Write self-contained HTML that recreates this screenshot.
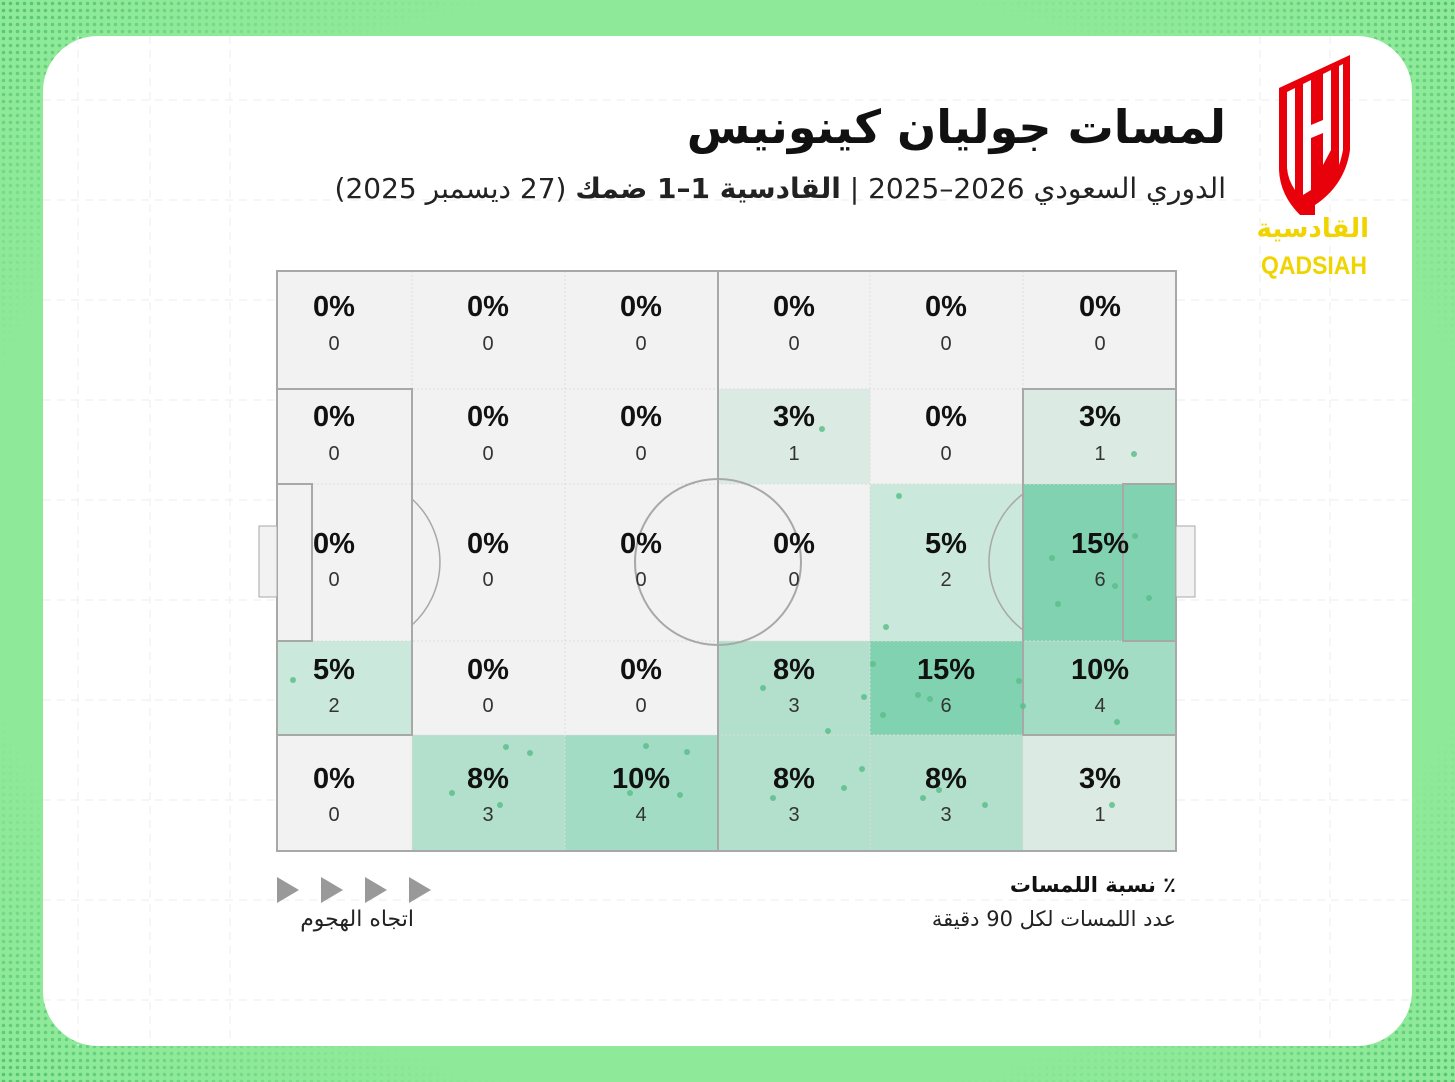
<!DOCTYPE html>
<html><head><meta charset="utf-8"><style>
html,body{margin:0;padding:0;}
body{width:1455px;height:1082px;overflow:hidden;background:#8eea98;font-family:"Liberation Sans","DejaVu Sans",sans-serif;position:relative;}
.t{position:absolute;direction:rtl;text-align:right;white-space:nowrap;font-family:"DejaVu Sans","Liberation Sans",sans-serif;}
</style></head><body>
<svg style="position:absolute;left:0;top:0" width="1455" height="1082" viewBox="0 0 1455 1082" xmlns="http://www.w3.org/2000/svg" font-family="Liberation Sans, DejaVu Sans, sans-serif">
<defs>
<pattern id="dots" width="7" height="7" patternUnits="userSpaceOnUse"><circle cx="3.5" cy="3.5" r="1.8" fill="#4fc070"/></pattern>
<radialGradient id="fade" cx="0.5" cy="0.5" r="0.72"><stop offset="0.72" stop-color="#8eea98" stop-opacity="1"/><stop offset="1" stop-color="#8eea98" stop-opacity="0"/></radialGradient>
</defs>
<rect width="1455" height="1082" fill="url(#dots)"/>
<rect width="1455" height="1082" fill="url(#fade)"/>
<rect x="43" y="36" width="1369" height="1010" rx="55" fill="#fff"/>
<g stroke="#ececec" stroke-dasharray="8 6" stroke-width="1">
<line x1="43" y1="100" x2="1412" y2="100"/><line x1="43" y1="200" x2="1412" y2="200"/><line x1="43" y1="300" x2="1412" y2="300"/><line x1="43" y1="400" x2="1412" y2="400"/><line x1="43" y1="500" x2="1412" y2="500"/><line x1="43" y1="600" x2="1412" y2="600"/><line x1="43" y1="700" x2="1412" y2="700"/><line x1="43" y1="800" x2="1412" y2="800"/><line x1="43" y1="900" x2="1412" y2="900"/><line x1="43" y1="1000" x2="1412" y2="1000"/>
<line x1="78" y1="36" x2="78" y2="1046"/><line x1="150" y1="36" x2="150" y2="1046"/><line x1="230" y1="36" x2="230" y2="1046"/><line x1="1260" y1="36" x2="1260" y2="1046"/><line x1="1330" y1="36" x2="1330" y2="1046"/>
</g>
<!-- logo -->
<path d="M1279 88 L1350 55 L1350 150 Q1345 185 1315 205 L1315 215 L1300 215 Q1280 195 1279 170 Z" fill="#e8000b"/>
<path d="M1287 92 L1295 88 L1295 190 Q1288 180 1287 168Z M1303 84 L1311 80 L1311 125 L1323 120 L1323 74 L1331 70 L1331 150 L1323 165 L1323 133 L1311 138 L1311 190 L1303 195 Z M1339 66 L1343 64 L1343 150 Q1341 160 1339 165Z" fill="#fff"/>
<text x="1314" y="274" text-anchor="middle" font-size="25" font-weight="bold" fill="#f0d400" textLength="106" lengthAdjust="spacingAndGlyphs">QADSIAH</text>
<g>
<rect x="277" y="271" width="899" height="580" fill="#f2f2f2"/>
<rect x="718" y="389" width="152" height="95" fill="#dceae4"/>
<rect x="1023" y="389" width="153" height="95" fill="#dceae4"/>
<rect x="870" y="484" width="153" height="157" fill="#cae8dc"/>
<rect x="1023" y="484" width="153" height="157" fill="#80d2b0"/>
<rect x="277" y="641" width="135" height="94" fill="#cae8dc"/>
<rect x="718" y="641" width="152" height="94" fill="#b3e0cd"/>
<rect x="870" y="641" width="153" height="94" fill="#80d2b0"/>
<rect x="1023" y="641" width="153" height="94" fill="#a3dcc4"/>
<rect x="412" y="735" width="153" height="116" fill="#b3e0cd"/>
<rect x="565" y="735" width="153" height="116" fill="#a3dcc4"/>
<rect x="718" y="735" width="152" height="116" fill="#b3e0cd"/>
<rect x="870" y="735" width="153" height="116" fill="#b3e0cd"/>
<rect x="1023" y="735" width="153" height="116" fill="#dceae4"/>
</g>
<g stroke="#ddd" stroke-dasharray="2 2" stroke-width="1">
<line x1="412" y1="271" x2="412" y2="851"/><line x1="565" y1="271" x2="565" y2="851"/><line x1="870" y1="271" x2="870" y2="851"/><line x1="1023" y1="271" x2="1023" y2="851"/>
<line x1="277" y1="389" x2="1176" y2="389"/><line x1="277" y1="484" x2="1176" y2="484"/><line x1="277" y1="641" x2="1176" y2="641"/><line x1="277" y1="735" x2="1176" y2="735"/>
</g>
<g fill="none" stroke="#a8a8a8" stroke-width="2">
<rect x="277" y="271" width="899" height="580"/>
<line x1="718" y1="271" x2="718" y2="851"/>
<circle cx="718" cy="562" r="83"/>
<rect x="277" y="389" width="135" height="346"/>
<rect x="277" y="484" width="35" height="157"/>
<rect x="259" y="526" width="18" height="71" fill="#f2f2f2" stroke-width="1"/>
<rect x="1023" y="389" width="153" height="346"/>
<rect x="1123" y="484" width="53" height="157"/>
<rect x="1176" y="526" width="19" height="71" fill="#f2f2f2" stroke-width="1"/>
<path d="M412 499 A85 85 0 0 1 412 625" stroke-width="1.5"/>
<path d="M1023 494 A85 85 0 0 0 1023 630" stroke-width="1.5"/>
</g>
<g fill="#5cbf8c" opacity="0.85">
<circle cx="822" cy="429" r="3"/><circle cx="1134" cy="454" r="3"/><circle cx="899" cy="496" r="3"/><circle cx="886" cy="627" r="3"/>
<circle cx="1052" cy="558" r="3"/><circle cx="1135" cy="536" r="3"/><circle cx="1115" cy="586" r="3"/><circle cx="1058" cy="604" r="3"/><circle cx="1149" cy="598" r="3"/>
<circle cx="293" cy="680" r="3"/><circle cx="763" cy="688" r="3"/><circle cx="828" cy="731" r="3"/><circle cx="864" cy="697" r="3"/>
<circle cx="873" cy="664" r="3"/><circle cx="918" cy="695" r="3"/><circle cx="930" cy="699" r="3"/><circle cx="883" cy="715" r="3"/><circle cx="1019" cy="681" r="3"/><circle cx="1023" cy="706" r="3"/>
<circle cx="1099" cy="672" r="3"/><circle cx="1117" cy="722" r="3"/>
<circle cx="506" cy="747" r="3"/><circle cx="530" cy="753" r="3"/><circle cx="452" cy="793" r="3"/><circle cx="500" cy="805" r="3"/>
<circle cx="646" cy="746" r="3"/><circle cx="687" cy="752" r="3"/><circle cx="630" cy="793" r="3"/><circle cx="680" cy="795" r="3"/>
<circle cx="862" cy="769" r="3"/><circle cx="844" cy="788" r="3"/><circle cx="773" cy="798" r="3"/>
<circle cx="923" cy="798" r="3"/><circle cx="939" cy="790" r="3"/><circle cx="985" cy="805" r="3"/><circle cx="1112" cy="805" r="3"/>
</g>
<g text-anchor="middle" fill="#111">
<g font-size="29" font-weight="bold">
<text x="334" y="316">0%</text><text x="488" y="316">0%</text><text x="641" y="316">0%</text><text x="794" y="316">0%</text><text x="946" y="316">0%</text><text x="1100" y="316">0%</text>
<text x="334" y="426">0%</text><text x="488" y="426">0%</text><text x="641" y="426">0%</text><text x="794" y="426">3%</text><text x="946" y="426">0%</text><text x="1100" y="426">3%</text>
<text x="334" y="553">0%</text><text x="488" y="553">0%</text><text x="641" y="553">0%</text><text x="794" y="553">0%</text><text x="946" y="553">5%</text><text x="1100" y="553">15%</text>
<text x="334" y="679">5%</text><text x="488" y="679">0%</text><text x="641" y="679">0%</text><text x="794" y="679">8%</text><text x="946" y="679">15%</text><text x="1100" y="679">10%</text>
<text x="334" y="788">0%</text><text x="488" y="788">8%</text><text x="641" y="788">10%</text><text x="794" y="788">8%</text><text x="946" y="788">8%</text><text x="1100" y="788">3%</text>
</g>
<g font-size="20" fill="#333">
<text x="334" y="350">0</text><text x="488" y="350">0</text><text x="641" y="350">0</text><text x="794" y="350">0</text><text x="946" y="350">0</text><text x="1100" y="350">0</text>
<text x="334" y="460">0</text><text x="488" y="460">0</text><text x="641" y="460">0</text><text x="794" y="460">1</text><text x="946" y="460">0</text><text x="1100" y="460">1</text>
<text x="334" y="586">0</text><text x="488" y="586">0</text><text x="641" y="586">0</text><text x="794" y="586">0</text><text x="946" y="586">2</text><text x="1100" y="586">6</text>
<text x="334" y="712">2</text><text x="488" y="712">0</text><text x="641" y="712">0</text><text x="794" y="712">3</text><text x="946" y="712">6</text><text x="1100" y="712">4</text>
<text x="334" y="821">0</text><text x="488" y="821">3</text><text x="641" y="821">4</text><text x="794" y="821">3</text><text x="946" y="821">3</text><text x="1100" y="821">1</text>
</g>
</g>
<g fill="#999">
<polygon points="277,877 299,890 277,903"/><polygon points="321,877 343,890 321,903"/><polygon points="365,877 387,890 365,903"/><polygon points="409,877 431,890 409,903"/>
</g>
</svg>
<div class="t" style="right:229px;top:100px;font-size:46px;font-weight:bold;color:#111;">لمسات جوليان كينونيس</div>
<div class="t" style="right:229px;top:172px;font-size:28px;color:#222;">الدوري السعودي <span dir="ltr">2025–2026</span> | <b>القادسية <span dir="ltr">1–1</span> ضمك</b> (27 ديسمبر 2025)</div>
<div class="t" style="right:86px;top:214px;font-size:26px;font-weight:bold;color:#f0d400;">القادسية</div>
<div class="t" style="right:279px;top:873px;font-size:21px;font-weight:bold;color:#111;">٪ نسبة اللمسات</div>
<div class="t" style="right:279px;top:907px;font-size:21px;color:#222;">عدد اللمسات لكل 90 دقيقة</div>
<div class="t" style="right:1041px;top:907px;font-size:22px;color:#222;">اتجاه الهجوم</div>
</body></html>
